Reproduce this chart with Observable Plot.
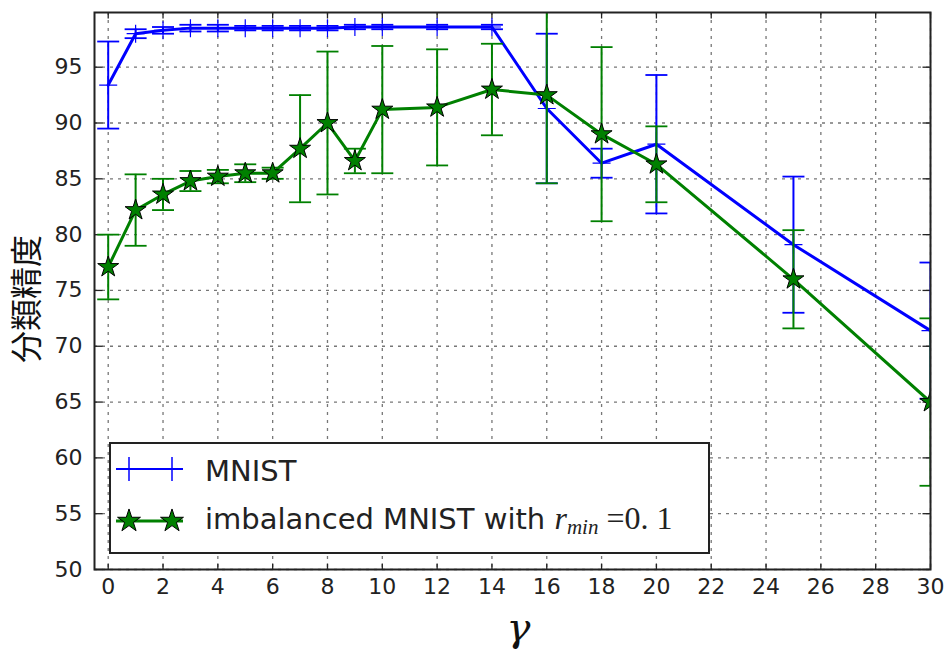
<!DOCTYPE html>
<html>
<head>
<meta charset="utf-8">
<script src="https://cdn.jsdelivr.net/npm/d3@7"></script>
<script src="https://cdn.jsdelivr.net/npm/@observablehq/plot@0.6"></script>
<style>
  html, body { margin: 0; padding: 0; background: #fff; }
  #wrap { position: relative; width: 944px; height: 656px; }
  #legend { position: absolute; left: 109px; top: 442px; }
</style>
</head>
<body>
<div id="wrap"></div>
<script>
// ---- data ----
const gammas = [0, 1, 2, 3, 4, 5, 6, 7, 8, 9, 10, 12, 14, 16, 18, 20, 25, 30];
const mnist = [93.4, 98.0, 98.3, 98.5, 98.5, 98.5, 98.5, 98.5, 98.5, 98.6, 98.6, 98.6, 98.6, 91.3, 86.4, 88.1, 79.1, 71.4];
const mnistErr = [3.9, 0.4, 0.3, 0.3, 0.3, 0.2, 0.2, 0.2, 0.2, 0.2, 0.2, 0.2, 0.2, 6.7, 1.3, 6.2, 6.1, 6.1];
const imbalanced = [77.1, 82.2, 83.6, 84.8, 85.2, 85.5, 85.5, 87.7, 90.0, 86.6, 91.2, 91.4, 93.0, 92.5, 89.0, 86.3, 76.0, 65.0];
const imbalancedErr = [2.9, 3.2, 1.4, 0.9, 0.6, 0.8, 0.5, 4.8, 6.4, 1.1, 5.7, 5.2, 4.1, 7.9, 7.8, 3.4, 4.4, 7.5];
const xTicks = [0, 2, 4, 6, 8, 10, 12, 14, 16, 18, 20, 22, 24, 26, 28, 30];
const yTicks = [50, 55, 60, 65, 70, 75, 80, 85, 90, 95];
const seriesNames = ["MNIST", "imbalanced MNIST with "];
const yLabel = "分類精度";
const xLabel = "γ";

const blue = "#0000ff", green = "#008000";

const rowsA = gammas.map((g, i) => ({x: g, y: mnist[i], lo: mnist[i] - mnistErr[i], hi: mnist[i] + mnistErr[i]}));
const rowsB = gammas.map((g, i) => ({x: g, y: imbalanced[i], lo: imbalanced[i] - imbalancedErr[i], hi: imbalanced[i] + imbalancedErr[i]}));

// custom line-only symbols (pixel sized)
const R = (s) => Math.sqrt(s / Math.PI);
const hline = {draw(c, s) { const r = R(s); c.moveTo(-r, 0); c.lineTo(r, 0); }};
const plus = {draw(c, s) { const r = R(s); c.moveTo(-r, 0); c.lineTo(r, 0); c.moveTo(0, -r); c.lineTo(0, r); }};
const tUp = {draw(c, s) { const r = R(s); c.moveTo(0, 0); c.lineTo(0, -r); }};
const tDown = {draw(c, s) { const r = R(s); c.moveTo(0, 0); c.lineTo(0, r); }};
const tRight = {draw(c, s) { const r = R(s); c.moveTo(0, 0); c.lineTo(r, 0); }};
const tLeft = {draw(c, s) { const r = R(s); c.moveTo(0, 0); c.lineTo(-r, 0); }};

function series(rows, color, markerMarks) {
  return [
    Plot.line(rows, {x: "x", y: "y", stroke: color, strokeWidth: 3, clip: true}),
    Plot.ruleX(rows, {x: "x", y1: "lo", y2: "hi", stroke: color, strokeWidth: 2, clip: true}),
    Plot.dot(rows, {x: "x", y: "lo", symbol: hline, r: 11, stroke: color, fill: "none", strokeWidth: 1.8, clip: true}),
    Plot.dot(rows, {x: "x", y: "hi", symbol: hline, r: 11, stroke: color, fill: "none", strokeWidth: 1.8, clip: true}),
    ...markerMarks
  ];
}

const chart = Plot.plot({
  width: 944,
  height: 656,
  marginLeft: 94,
  marginRight: 14,
  marginTop: 12,
  marginBottom: 87,
  style: {fontFamily: "DejaVu Sans", fontSize: "22px", color: "#222", background: "#fff", overflow: "visible"},
  x: {domain: [-0.5, 30], ticks: xTicks},
  y: {domain: [50, 99.9], ticks: yTicks},
  marks: [
    Plot.gridX(xTicks, {stroke: "#777", strokeOpacity: 1, strokeWidth: 1.3, strokeDasharray: "3,5"}),
    Plot.gridY(yTicks, {stroke: "#777", strokeOpacity: 1, strokeWidth: 1.3, strokeDasharray: "3,5"}),
    Plot.axisX(xTicks, {tickSize: 0, tickPadding: 9, label: null, fill: "#222"}),
    Plot.axisY(yTicks, {tickSize: 0, tickPadding: 12, label: null, fill: "#222"}),
    Plot.dot(xTicks, {x: d => d, frameAnchor: "bottom", symbol: tUp, r: 6, stroke: "#222", fill: "none", strokeWidth: 1.3}),
    Plot.dot(xTicks, {x: d => d, frameAnchor: "top", symbol: tDown, r: 6, stroke: "#222", fill: "none", strokeWidth: 1.3}),
    Plot.dot(yTicks, {y: d => d, frameAnchor: "left", symbol: tRight, r: 8, stroke: "#222", fill: "none", strokeWidth: 1.3}),
    Plot.dot(yTicks, {y: d => d, frameAnchor: "right", symbol: tLeft, r: 8, stroke: "#222", fill: "none", strokeWidth: 1.3}),
    ...series(rowsA, blue, [
      Plot.dot(rowsA, {x: "x", y: "y", symbol: plus, r: 9, stroke: blue, fill: "none", strokeWidth: 1.2, clip: true})
    ]),
    ...series(rowsB, green, [
      Plot.dot(rowsB, {x: "x", y: "y", symbol: "star", r: 6.6, fill: green, stroke: "#000", strokeWidth: 1, clip: true})
    ]),
    Plot.frame({stroke: "#222", strokeWidth: 2}),
    Plot.text([yLabel], {text: d => d, frameAnchor: "left", textAnchor: "middle", dx: -67, dy: 8, rotate: -90, fontSize: 32, fontFamily: "Noto Sans CJK JP", fill: "#111"}),
    Plot.text([xLabel], {text: d => d, frameAnchor: "bottom", dx: 6, dy: 71, lineAnchor: "bottom", fontSize: 40, fontFamily: "DejaVu Serif", fontStyle: "italic", fill: "#111"})
  ]
});

const wrap = document.getElementById("wrap");
wrap.appendChild(chart);

// ---- legend overlay ----
const lw = 601, lh = 112;
const leg = d3.create("svg").attr("id", "legend").attr("width", lw).attr("height", lh);
leg.append("rect").attr("x", 1).attr("y", 1).attr("width", lw - 2).attr("height", lh - 2)
  .attr("fill", "#fff").attr("stroke", "#222").attr("stroke-width", 2);

const rowsY = [27, 79];
const mx = [20, 63];
// row 1: MNIST
leg.append("line").attr("x1", 7).attr("x2", 74).attr("y1", rowsY[0]).attr("y2", rowsY[0]).attr("stroke", blue).attr("stroke-width", 2);
for (const x of mx) {
  leg.append("line").attr("x1", x).attr("x2", x).attr("y1", rowsY[0] - 12).attr("y2", rowsY[0] + 12).attr("stroke", blue).attr("stroke-width", 1.5);
}
leg.append("text").attr("x", 96).attr("y", rowsY[0] + 12).attr("font-family", "DejaVu Sans").attr("font-size", 29).attr("fill", "#222").text(seriesNames[0]);
// row 2: imbalanced
leg.append("line").attr("x1", 7).attr("x2", 74).attr("y1", rowsY[1]).attr("y2", rowsY[1]).attr("stroke", green).attr("stroke-width", 2.8);
const starPath = d3.symbol(d3.symbolStar, Math.PI * 7.2 * 7.2)();
for (const x of mx) {
  leg.append("path").attr("d", starPath).attr("transform", `translate(${x},${rowsY[1]})`)
    .attr("fill", green).attr("stroke", "#000").attr("stroke-width", 1);
}
const t2 = leg.append("text").attr("x", 96).attr("y", rowsY[1] + 8).attr("font-family", "DejaVu Sans").attr("font-size", 29).attr("fill", "#222");
t2.append("tspan").text(seriesNames[1]);
t2.append("tspan").attr("font-family", "Liberation Serif").attr("font-style", "italic").attr("font-size", 32).text("r");
t2.append("tspan").attr("font-family", "Liberation Serif").attr("font-style", "italic").attr("font-size", 21).attr("dy", 5).text("min");
t2.append("tspan").attr("font-family", "Liberation Serif").attr("font-size", 32).attr("dy", -5).text(" =0. 1");
wrap.appendChild(leg.node());
</script>
</body>
</html>
